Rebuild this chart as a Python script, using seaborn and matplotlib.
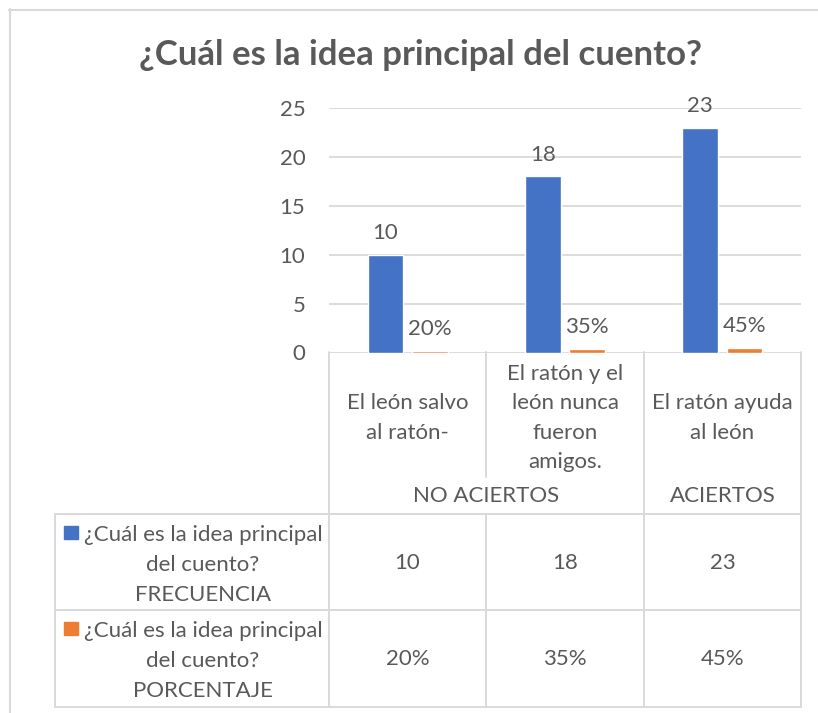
import matplotlib
matplotlib.use("Agg")
import matplotlib.pyplot as plt
from matplotlib.lines import Line2D
from matplotlib.patches import Rectangle
import pandas as pd
import seaborn as sns

# Datos del gráfico
categorias = ["El león salvo\nal ratón-", "El ratón y el\nleón nunca\nfueron\namigos.", "El ratón ayuda\nal león"]
grupos = ["NO ACIERTOS", "ACIERTOS"]
serie_nombres = ["FRECUENCIA", "PORCENTAJE"]
frecuencia = [10, 18, 23]
porcentaje = [0.20, 0.35, 0.45]
etiquetas_frec = ["10", "18", "23"]
etiquetas_pct = ["20%", "35%", "45%"]
y_ticks = [0, 5, 10, 15, 20, 25]

colores = ["#4472C4", "#ED7D31"]
gris = "#595959"
linea = "#D9D9D9"
W, H = 818, 713
fs = 16

df = pd.DataFrame({
    "categoria": categorias * 2,
    "serie": [serie_nombres[0]] * 3 + [serie_nombres[1]] * 3,
    "valor": frecuencia + porcentaje,
})

sns.set_style("white")
plt.rcParams["font.family"] = ["Lato", "DejaVu Sans"]

fig = plt.figure(figsize=(W / 100, H / 100), dpi=100)

def fx(px):
    return px / W

def fy(py):
    return 1 - py / H

# Área del gráfico
x0, x1, ytop, ybot = 329, 801, 108, 352.5
ax = fig.add_axes([fx(x0), fy(ybot), fx(x1 - x0), (ybot - ytop) / H])
sns.barplot(data=df, x="categoria", y="valor", hue="serie", palette=colores,
            saturation=1, width=0.566, gap=0.2, ax=ax, legend=False)
ax.set_ylim(0, 25)
ax.set_yticks(y_ticks)
ax.set_xlim(-0.5, 2.5)
ax.set_xticks([])
ax.set_xlabel("")
ax.set_ylabel("")
ax.grid(axis="y", color=linea, linewidth=1.3)
ax.set_axisbelow(True)
for s in ax.spines.values():
    s.set_visible(False)
ax.tick_params(axis="y", length=0, pad=17, labelsize=fs, labelcolor=gris)

ax.bar_label(ax.containers[0], labels=etiquetas_frec, padding=8.5, fontsize=fs, color=gris)
ax.bar_label(ax.containers[1], labels=etiquetas_pct, padding=8.5, fontsize=fs, color=gris)

# Título
fig.text(fx(421), fy(55), "¿Cuál es la idea principal del cuento?", ha="center", va="center",
         fontsize=25, fontweight="bold", color=gris)

# Marco exterior
fig.add_artist(Line2D([fx(9), fx(818)], [fy(9.5), fy(9.5)], color=linea, lw=1.5))
fig.add_artist(Line2D([fx(9.5), fx(9.5)], [fy(9), fy(713)], color=linea, lw=1.5))

# Tabla de datos
def hline(xa, xb, y):
    fig.add_artist(Line2D([fx(xa), fx(xb)], [fy(y), fy(y)], color=linea, lw=1.4))

def vline(x, ya, yb):
    fig.add_artist(Line2D([fx(x), fx(x)], [fy(ya), fy(yb)], color=linea, lw=1.4))

cols = [329, 486, 644, 801]
vline(329, 352, 707)
vline(486, 352, 477)
vline(486, 514, 707)
vline(644, 352, 707)
vline(801, 352, 707)
vline(55, 514, 707)
for y in [514, 610, 707]:
    hline(55, 801, y)

centros = [(cols[i] + cols[i + 1]) / 2 for i in range(3)]
for c, cat in zip(centros, categorias):
    fig.text(fx(c), fy(418), cat, ha="center", va="center", fontsize=fs,
             color=gris, linespacing=1.6)
fig.text(fx(486), fy(496), grupos[0], ha="center", va="center", fontsize=fs, color=gris)
fig.text(fx(722.5), fy(496), grupos[1], ha="center", va="center", fontsize=fs, color=gris)

filas_y = [565, 661]
valores_tabla = [etiquetas_frec, etiquetas_pct]
for fila, (yc, vals) in enumerate(zip(filas_y, valores_tabla)):
    for c, v in zip(centros, vals):
        fig.text(fx(c), fy(yc - 2), v, ha="center", va="center", fontsize=fs, color=gris)
    fig.text(fx(203), fy(yc), "¿Cuál es la idea principal\ndel cuento?\n" + serie_nombres[fila],
             ha="center", va="center", fontsize=fs, color=gris, linespacing=1.6)
    fig.add_artist(Rectangle((fx(64), fy(yc - 26)), 14 / W, 13 / H,
                             color=colores[fila], transform=fig.transFigure))

fig.savefig("out.png", dpi=100)
